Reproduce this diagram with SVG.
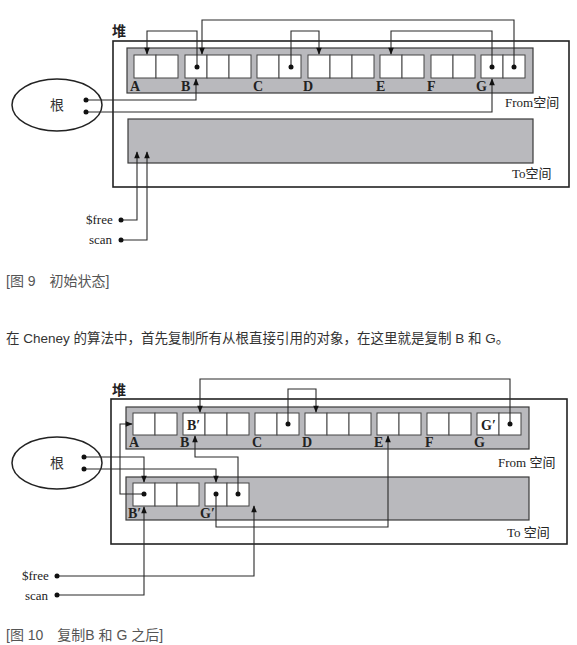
<svg xmlns="http://www.w3.org/2000/svg" width="577" height="645" viewBox="0 0 577 645">
<style>
.outer{fill:none;stroke:#222;stroke-width:1.6}
.space{fill:#b9b9bd;stroke:#3a3a3a;stroke-width:1.2}
.cell{fill:#fff;stroke:#444;stroke-width:1}
.conn{fill:none;stroke:#2a2a2a;stroke-width:1.1}
.dot{fill:#111}
.lbl{font-family:"Liberation Serif","Noto Sans CJK SC",serif;font-weight:bold;font-size:14px;fill:#222}
.sp{font-family:"Liberation Serif","Noto Sans CJK SC",serif;font-size:13px;fill:#222}
.heap{font-family:"Noto Sans CJK SC",sans-serif;font-weight:bold;font-size:14px;fill:#222}
.root{font-family:"Noto Sans CJK SC",sans-serif;font-size:14px;fill:#333}
.cap{font-family:"Liberation Sans","Noto Sans CJK SC",sans-serif;font-size:14px;fill:#555}
.para{font-family:"Liberation Sans","Noto Sans CJK SC",sans-serif;font-size:13.5px;fill:#333}
</style>
<defs>
<marker id="ah" viewBox="0 0 10 10" refX="9" refY="5" markerWidth="8" markerHeight="7" markerUnits="userSpaceOnUse" orient="auto">
<path d="M0,1 L10,5 L0,9 Z" fill="#111"/>
</marker>
</defs>

<!-- ===== Figure 9 ===== -->
<g id="fig9-heap">
<text class="heap" x="112" y="36">堆</text>
<rect class="outer" x="113" y="41" width="456" height="146"/>
</g>
<g id="fig9-from">
<rect class="space" x="127" y="48" width="406" height="45"/>
<text class="sp" x="505" y="107">From空间</text>
</g>
<g id="fig9-A"><rect class="cell" x="134" y="55" width="22" height="23"/><rect class="cell" x="156" y="55" width="22" height="23"/><text class="lbl" x="130" y="91">A</text></g>
<g id="fig9-B"><rect class="cell" x="185" y="55" width="22" height="23"/><rect class="cell" x="207" y="55" width="22" height="23"/><rect class="cell" x="229" y="55" width="22" height="23"/><text class="lbl" x="181" y="91">B</text></g>
<g id="fig9-C"><rect class="cell" x="257" y="55" width="22" height="23"/><rect class="cell" x="279" y="55" width="22" height="23"/><text class="lbl" x="253" y="91">C</text></g>
<g id="fig9-D"><rect class="cell" x="308" y="55" width="22" height="23"/><rect class="cell" x="330" y="55" width="22" height="23"/><rect class="cell" x="352" y="55" width="22" height="23"/><text class="lbl" x="303" y="91">D</text></g>
<g id="fig9-E"><rect class="cell" x="380" y="55" width="22" height="23"/><rect class="cell" x="402" y="55" width="22" height="23"/><text class="lbl" x="376" y="91">E</text></g>
<g id="fig9-F"><rect class="cell" x="431" y="55" width="22" height="23"/><rect class="cell" x="453" y="55" width="22" height="23"/><text class="lbl" x="427" y="91">F</text></g>
<g id="fig9-G"><rect class="cell" x="481" y="55" width="22" height="23"/><rect class="cell" x="503" y="55" width="22" height="23"/><text class="lbl" x="476" y="91">G</text></g>
<g id="fig9-to">
<rect class="space" x="128" y="119" width="405" height="44"/>
<text class="sp" x="512" y="178">To空间</text>
</g>
<g id="fig9-root">
<ellipse cx="57" cy="105" rx="45" ry="26" fill="#fff" stroke="#222" stroke-width="1.5"/>
<text class="root" x="50" y="110">根</text>
</g>
<g id="fig9-free"><text class="sp" x="86" y="224">$free</text></g>
<g id="fig9-scan"><text class="sp" x="89" y="244">scan</text></g>
<g id="fig9-connectors">
<path class="conn" d="M197,67 V31 H147 V54" marker-end="url(#ah)"/>
<path class="conn" d="M514,67 V20 H202 V54" marker-end="url(#ah)"/>
<path class="conn" d="M291,67 V31 H319 V54" marker-end="url(#ah)"/>
<path class="conn" d="M492,67 V31 H391 V54" marker-end="url(#ah)"/>
<path class="conn" d="M86,100 H196 V79" marker-end="url(#ah)"/>
<path class="conn" d="M86,112 H492 V79" marker-end="url(#ah)"/>
<path class="conn" d="M121,220 H137 V152" marker-end="url(#ah)"/>
<path class="conn" d="M121,240 H147 V152" marker-end="url(#ah)"/>
<circle class="dot" cx="197" cy="67" r="2.5"/>
<circle class="dot" cx="514" cy="67" r="2.5"/>
<circle class="dot" cx="291" cy="67" r="2.5"/>
<circle class="dot" cx="492" cy="67" r="2.5"/>
<circle class="dot" cx="86" cy="100" r="2.5"/>
<circle class="dot" cx="86" cy="112" r="2.5"/>
<circle class="dot" cx="121" cy="220" r="2.5"/>
<circle class="dot" cx="121" cy="240" r="2.5"/>
</g>
<text class="cap" x="6" y="286">[图 9　初始状态]</text>
<text class="para" x="6" y="343">在 Cheney 的算法中，首先复制所有从根直接引用的对象，在这里就是复制 B 和 G。</text>

<!-- ===== Figure 10 ===== -->
<g id="fig10-heap">
<text class="heap" x="112" y="395">堆</text>
<rect class="outer" x="111" y="399" width="456" height="145"/>
</g>
<g id="fig10-from">
<rect class="space" x="126" y="407" width="403" height="42"/>
<text class="sp" x="498" y="467">From 空间</text>
</g>
<g id="fig10-A"><rect class="cell" x="133" y="413" width="22" height="22"/><rect class="cell" x="155" y="413" width="22" height="22"/><text class="lbl" x="129" y="447">A</text></g>
<g id="fig10-B"><rect class="cell" x="183" y="413" width="22" height="22"/><rect class="cell" x="205" y="413" width="22" height="22"/><rect class="cell" x="227" y="413" width="22" height="22"/><text class="lbl" x="187" y="430">B′</text><text class="lbl" x="180" y="447">B</text></g>
<g id="fig10-C"><rect class="cell" x="255" y="413" width="22" height="22"/><rect class="cell" x="277" y="413" width="22" height="22"/><text class="lbl" x="252" y="447">C</text></g>
<g id="fig10-D"><rect class="cell" x="305" y="413" width="22" height="22"/><rect class="cell" x="327" y="413" width="22" height="22"/><rect class="cell" x="349" y="413" width="22" height="22"/><text class="lbl" x="302" y="447">D</text></g>
<g id="fig10-E"><rect class="cell" x="377" y="413" width="22" height="22"/><rect class="cell" x="399" y="413" width="22" height="22"/><text class="lbl" x="374" y="447">E</text></g>
<g id="fig10-F"><rect class="cell" x="427" y="413" width="22" height="22"/><rect class="cell" x="449" y="413" width="22" height="22"/><text class="lbl" x="425" y="447">F</text></g>
<g id="fig10-G"><rect class="cell" x="477" y="413" width="22" height="22"/><rect class="cell" x="499" y="413" width="22" height="22"/><text class="lbl" x="481" y="430">G′</text><text class="lbl" x="474" y="447">G</text></g>
<g id="fig10-to">
<rect class="space" x="126" y="477" width="403" height="43"/>
<text class="sp" x="507" y="537">To 空间</text>
</g>
<g id="fig10-Bcopy"><rect class="cell" x="133" y="483" width="22" height="23"/><rect class="cell" x="155" y="483" width="22" height="23"/><rect class="cell" x="177" y="483" width="22" height="23"/><text class="lbl" x="128" y="518">B′</text></g>
<g id="fig10-Gcopy"><rect class="cell" x="205" y="483" width="22" height="23"/><rect class="cell" x="227" y="483" width="22" height="23"/><text class="lbl" x="200" y="518">G′</text></g>
<g id="fig10-root">
<ellipse cx="57" cy="463" rx="45" ry="26" fill="#fff" stroke="#222" stroke-width="1.5"/>
<text class="root" x="50" y="468">根</text>
</g>
<g id="fig10-free"><text class="sp" x="22" y="580">$free</text></g>
<g id="fig10-scan"><text class="sp" x="25" y="600">scan</text></g>
<g id="fig10-connectors">
<path class="conn" d="M510,424 V379 H200 V412" marker-end="url(#ah)"/>
<path class="conn" d="M288,424 V389 H316 V412" marker-end="url(#ah)"/>
<path class="conn" d="M84,457 H144 V482" marker-end="url(#ah)"/>
<path class="conn" d="M84,469 H216 V482" marker-end="url(#ah)"/>
<path class="conn" d="M144,494 H120 V424 H132" marker-end="url(#ah)"/>
<path class="conn" d="M216,494 V527 H388 V436" marker-end="url(#ah)"/>
<path class="conn" d="M238,494 V457 H195 V436" marker-end="url(#ah)"/>
<path class="conn" d="M57,576 H254 V506" marker-end="url(#ah)"/>
<path class="conn" d="M57,595 H144 V507" marker-end="url(#ah)"/>
<circle class="dot" cx="510" cy="424" r="2.5"/>
<circle class="dot" cx="288" cy="424" r="2.5"/>
<circle class="dot" cx="84" cy="457" r="2.5"/>
<circle class="dot" cx="84" cy="469" r="2.5"/>
<circle class="dot" cx="144" cy="494" r="2.5"/>
<circle class="dot" cx="216" cy="494" r="2.5"/>
<circle class="dot" cx="238" cy="494" r="2.5"/>
<circle class="dot" cx="57" cy="576" r="2.5"/>
<circle class="dot" cx="57" cy="595" r="2.5"/>
</g>
<text class="cap" x="6" y="640">[图 10　复制B 和 G 之后]</text>
</svg>
